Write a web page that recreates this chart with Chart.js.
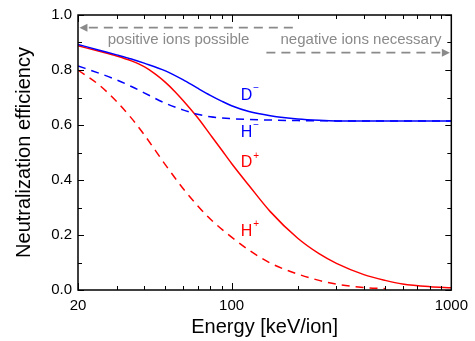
<!DOCTYPE html>
<html>
<head>
<meta charset="utf-8">
<script src="https://cdn.jsdelivr.net/npm/chart.js@4/dist/chart.umd.min.js"></script>
<style>
  html, body { margin: 0; padding: 0; background: #fff; }
</style>
</head>
<body>
<canvas id="graph" width="475" height="341"></canvas>
<script>
// energies in keV/ion and neutralization efficiency
const energyDminus = [20, 25, 30, 35, 40, 50, 60, 70, 80, 90, 100, 120, 150, 200, 250, 300, 500, 1000];
const effDminus    = [0.893, 0.872, 0.855, 0.840, 0.825, 0.797, 0.765, 0.734, 0.708, 0.687, 0.670, 0.649, 0.634, 0.622, 0.617, 0.615, 0.615, 0.615];

const energyHminus = [20, 25, 30, 35, 40, 50, 60, 70, 80, 100, 120, 150, 200, 300, 1000];
const effHminus    = [0.815, 0.788, 0.764, 0.740, 0.717, 0.679, 0.655, 0.639, 0.630, 0.623, 0.620, 0.618, 0.616, 0.615, 0.615];

const energyDplus = [20, 25, 30, 35, 40, 45, 50, 55, 60, 70, 80, 90, 100, 120, 150, 200, 250, 300, 400, 500, 600, 800, 1000];
const effDplus    = [0.888, 0.868, 0.851, 0.833, 0.812, 0.785, 0.755, 0.723, 0.690, 0.627, 0.565, 0.510, 0.460, 0.380, 0.285, 0.188, 0.132, 0.097, 0.056, 0.035, 0.022, 0.012, 0.008];

const energyHplus = [20, 25, 30, 35, 40, 50, 60, 70, 80, 100, 120, 150, 200, 250, 300, 400, 500];
const effHplus    = [0.800, 0.745, 0.685, 0.625, 0.565, 0.455, 0.370, 0.307, 0.258, 0.192, 0.145, 0.098, 0.058, 0.035, 0.021, 0.009, 0.005];

const xTickValues = [20, 30, 40, 50, 60, 70, 80, 90, 100, 200, 300, 400, 500, 600, 700, 800, 900, 1000];
const xTickLabels = [20, 100, 1000];
const yTickValues = [0, 0.1, 0.2, 0.3, 0.4, 0.5, 0.6, 0.7, 0.8, 0.9, 1.0];

const BLUE = '#0000ff';
const RED = '#ff0000';
const GRAY = '#8a8a8a';
const FONT = "'Liberation Sans', Arial, sans-serif";

function pts(xs, ys) {
  return xs.map((x, i) => ({ x: x, y: ys[i] }));
}

// box with inward ticks on all four sides
const frame = {
  id: 'frame',
  afterDatasetsDraw(chart) {
    const { ctx, chartArea: a, scales: { x, y } } = chart;
    ctx.save();
    ctx.strokeStyle = '#000';
    ctx.lineWidth = 1;
    ctx.beginPath();
    xTickValues.forEach(v => {
      const px = Math.round(x.getPixelForValue(v)) + 0.5;
      const len = xTickLabels.includes(v) ? 7 : 4;
      ctx.moveTo(px, a.bottom); ctx.lineTo(px, a.bottom - len);
      ctx.moveTo(px, a.top); ctx.lineTo(px, a.top + len);
    });
    yTickValues.forEach((v, i) => {
      const py = Math.round(y.getPixelForValue(v)) + 0.5;
      const len = i % 2 === 0 ? 6 : 4;
      ctx.moveTo(a.left, py); ctx.lineTo(a.left + len, py);
      ctx.moveTo(a.right, py); ctx.lineTo(a.right - len, py);
    });
    ctx.stroke();
    ctx.lineWidth = 1.5;
    ctx.strokeRect(a.left, a.top, a.right - a.left, a.bottom - a.top);
    ctx.restore();
  }
};

// gray arrows, notes and curve names
const arrows = [
  { from: 190, to: 20.3, y: 0.954 },
  { from: 144, to: 985, y: 0.863 }
];
const notes = [
  { text: 'positive ions possible', x: 27.3, y: 0.909 },
  { text: 'negative ions necessary', x: 167, y: 0.909 }
];
const curveNames = [
  { main: 'D', sup: '\u2212', color: BLUE, x: 110, y: 0.707 },
  { main: 'H', sup: '\u2212', color: BLUE, x: 110, y: 0.574 },
  { main: 'D', sup: '+', color: RED, x: 110, y: 0.462 },
  { main: 'H', sup: '+', color: RED, x: 110, y: 0.212 }
];

const annotations = {
  id: 'annotations',
  afterDatasetsDraw(chart) {
    const { ctx, scales: { x, y } } = chart;
    ctx.save();
    ctx.strokeStyle = GRAY;
    ctx.fillStyle = GRAY;
    ctx.lineWidth = 1.8;
    arrows.forEach(ar => {
      const x0 = x.getPixelForValue(ar.from);
      const x1 = x.getPixelForValue(ar.to);
      const py = y.getPixelForValue(ar.y);
      const dir = x1 > x0 ? 1 : -1;
      const base = x1 - dir * 8;
      ctx.setLineDash([9, 6]);
      ctx.beginPath();
      ctx.moveTo(x0, py); ctx.lineTo(base, py);
      ctx.stroke();
      ctx.setLineDash([]);
      ctx.beginPath();
      ctx.moveTo(x1, py);
      ctx.lineTo(base, py - 4);
      ctx.lineTo(base, py + 4);
      ctx.closePath();
      ctx.fill();
    });
    ctx.font = '15px ' + FONT;
    ctx.textBaseline = 'middle';
    ctx.textAlign = 'left';
    notes.forEach(n => {
      ctx.fillText(n.text, x.getPixelForValue(n.x), y.getPixelForValue(n.y));
    });
    curveNames.forEach(c => {
      const px = x.getPixelForValue(c.x);
      const py = y.getPixelForValue(c.y);
      ctx.fillStyle = c.color;
      ctx.font = '16px ' + FONT;
      ctx.fillText(c.main, px, py);
      const w = ctx.measureText(c.main).width;
      ctx.font = '10px ' + FONT;
      ctx.fillText(c.sup, px + w + 1, py - 7);
    });
    ctx.restore();
  }
};

function line(label, xs, ys, color, dashed) {
  return {
    label: label,
    data: pts(xs, ys),
    borderColor: color,
    borderWidth: 1.5,
    borderDash: dashed ? [8, 6] : [],
    pointRadius: 0,
    fill: false,
    cubicInterpolationMode: 'monotone'
  };
}

const config = {
  type: 'line',
  data: {
    datasets: [
      line('D-', energyDminus, effDminus, BLUE, false),
      line('H-', energyHminus, effHminus, BLUE, true),
      line('D+', energyDplus, effDplus, RED, false),
      line('H+', energyHplus, effHplus, RED, true)
    ]
  },
  options: {
    responsive: false,
    animation: false,
    layout: { padding: { left: 0, right: 21, top: 14, bottom: 0 } },
    plugins: { legend: { display: false }, tooltip: { enabled: false } },
    scales: {
      x: {
        type: 'logarithmic',
        min: 20,
        max: 1000,
        grid: { display: false, drawTicks: false },
        border: { display: false },
        afterBuildTicks: s => { s.ticks = xTickValues.map(v => ({ value: v })); },
        afterFit: s => { s.height = 51; },
        ticks: {
          autoSkip: false,
          maxRotation: 0,
          padding: 7,
          color: '#000',
          font: { family: FONT, size: 15 },
          callback: v => xTickLabels.includes(v) ? String(v) : ''
        },
        title: {
          display: true,
          text: 'Energy [keV/ion]',
          color: '#000',
          font: { family: FONT, size: 20, lineHeight: 1.2 },
          padding: { top: 2, bottom: 2 }
        }
      },
      y: {
        min: 0,
        max: 1,
        grid: { display: false, drawTicks: false },
        border: { display: false },
        afterFit: s => { s.width = 78; },
        ticks: {
          stepSize: 0.2,
          padding: 6,
          color: '#000',
          font: { family: FONT, size: 15 },
          callback: v => v.toFixed(1)
        },
        title: {
          display: true,
          text: 'Neutralization efficiency',
          color: '#000',
          font: { family: FONT, size: 20, lineHeight: 1.2 },
          padding: { top: 12, bottom: 0 }
        }
      }
    }
  },
  plugins: [frame, annotations]
};

const graph = document.querySelector('#graph');
new Chart(graph, config);
</script>
</body>
</html>
